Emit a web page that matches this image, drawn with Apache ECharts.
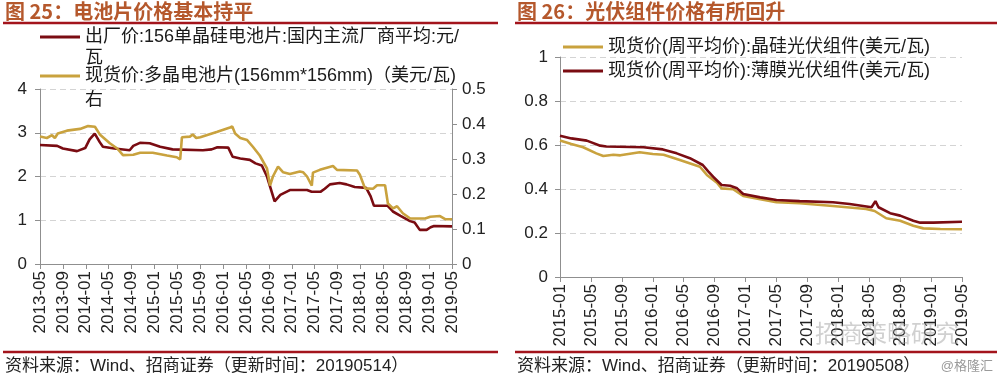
<!DOCTYPE html>
<html>
<head>
<meta charset="utf-8">
<script src="https://cdn.jsdelivr.net/npm/echarts@6/dist/echarts.min.js"></script>
<style>
html,body{margin:0;padding:0;background:#fff;}
#chart{width:1000px;height:379px;}
</style>
</head>
<body>
<div id="chart"></div>
<script>
// ---------- Data: left chart (图25) ----------
const leftTickLabels = ['2013-05','2013-09','2014-01','2014-05','2014-09','2015-01','2015-05','2015-09','2016-01','2016-05','2016-09','2017-01','2017-05','2017-09','2018-01','2018-05','2018-09','2019-01','2019-05'];

const cellFactoryName = '出厂价:156单晶硅电池片:国内主流厂商平均:元/瓦';
const cellFactoryDates = ['2013-05-01','2013-08-01','2013-09-01','2013-11-15','2013-12-28','2014-01-21','2014-02-18','2014-03-15','2014-04-01','2014-06-01','2014-08-21','2014-09-10','2014-10-15','2014-12-06','2015-02-01','2015-04-06','2015-09-15','2015-11-01','2015-12-01','2016-01-28','2016-02-21','2016-04-01','2016-05-21','2016-06-21','2016-07-24','2016-08-21','2016-10-01','2016-11-01','2016-12-21','2017-03-21','2017-04-15','2017-06-01','2017-06-24','2017-07-21','2017-09-12','2017-10-18','2017-12-01','2018-02-01','2018-02-24','2018-03-12','2018-05-24','2018-06-21','2018-08-01','2018-09-21','2018-10-15','2018-11-12','2018-12-18','2019-01-09','2019-01-27','2019-05-01'];
const cellFactoryPrice = [2.72,2.70,2.64,2.58,2.65,2.85,2.98,2.78,2.68,2.64,2.60,2.70,2.77,2.76,2.68,2.62,2.60,2.62,2.67,2.66,2.45,2.41,2.38,2.30,2.25,2.00,1.43,1.58,1.69,1.69,1.65,1.65,1.72,1.82,1.85,1.82,1.76,1.74,1.55,1.33,1.33,1.20,1.10,0.98,0.95,0.78,0.78,0.84,0.87,0.86];

const cellSpotName = '现货价:多晶电池片(156mm*156mm)（美元/瓦)右';
const cellSpotDates = ['2013-05-01','2013-06-07','2013-07-04','2013-07-19','2013-08-04','2013-09-22','2013-12-01','2014-01-13','2014-02-19','2014-03-16','2014-05-07','2014-06-16','2014-07-16','2014-09-10','2014-10-16','2014-12-22','2015-03-07','2015-04-28','2015-05-16','2015-05-25','2015-07-07','2015-07-22','2015-08-10','2015-09-01','2015-12-01','2016-02-07','2016-02-19','2016-03-04','2016-04-01','2016-05-07','2016-06-07','2016-07-13','2016-08-21','2016-09-07','2016-09-22','2016-10-19','2016-11-16','2016-12-21','2017-02-13','2017-03-01','2017-03-21','2017-04-16','2017-04-22','2017-05-28','2017-08-07','2017-08-28','2017-12-13','2017-12-28','2018-01-25','2018-03-07','2018-03-28','2018-05-10','2018-05-25','2018-06-22','2018-07-13','2018-08-13','2018-09-22','2018-12-10','2019-01-07','2019-02-28','2019-03-25','2019-05-01'];
const cellSpotPrice = [0.364,0.360,0.368,0.360,0.373,0.381,0.386,0.394,0.392,0.369,0.345,0.330,0.311,0.312,0.318,0.318,0.310,0.305,0.299,0.362,0.364,0.370,0.360,0.362,0.378,0.390,0.393,0.373,0.360,0.354,0.335,0.310,0.273,0.224,0.250,0.278,0.262,0.257,0.264,0.262,0.250,0.224,0.261,0.269,0.280,0.269,0.267,0.255,0.216,0.215,0.225,0.225,0.173,0.159,0.165,0.145,0.130,0.130,0.135,0.137,0.128,0.128];

// ---------- Data: right chart (图26) ----------
const rightTickLabels = ['2015-01','2015-05','2015-09','2016-01','2016-05','2016-09','2017-01','2017-05','2017-09','2018-01','2018-05','2018-09','2019-01','2019-05'];

const moduleSiName = '现货价(周平均价):晶硅光伏组件(美元/瓦)';
const moduleSiDates = ['2015-01-01','2015-02-15','2015-04-01','2015-05-22','2015-06-19','2015-07-28','2015-08-25','2015-11-10','2016-01-01','2016-02-13','2016-04-16','2016-07-04','2016-08-01','2016-09-10','2016-09-28','2016-11-13','2016-12-22','2017-02-28','2017-05-01','2017-08-01','2017-12-10','2018-04-19','2018-05-22','2018-07-07','2018-09-01','2018-10-22','2018-12-01','2019-02-07','2019-05-01'];
const moduleSiPrice = [0.620,0.605,0.590,0.562,0.550,0.556,0.553,0.567,0.559,0.556,0.532,0.501,0.464,0.429,0.403,0.399,0.368,0.353,0.340,0.335,0.323,0.309,0.300,0.267,0.256,0.233,0.221,0.218,0.217];

const moduleFilmName = '现货价(周平均价):薄膜光伏组件(美元/瓦)';
const moduleFilmDates = ['2015-01-01','2015-02-15','2015-04-15','2015-06-07','2015-07-01','2015-11-25','2016-02-10','2016-04-04','2016-05-25','2016-07-15','2016-08-07','2016-08-25','2016-09-28','2016-11-01','2016-11-28','2016-12-22','2017-02-28','2017-05-01','2017-08-01','2017-12-10','2018-02-15','2018-05-10','2018-05-25','2018-06-07','2018-07-22','2018-09-01','2018-10-22','2018-11-19','2019-01-10','2019-05-01'];
const moduleFilmPrice = [0.642,0.630,0.620,0.597,0.593,0.590,0.580,0.562,0.540,0.509,0.479,0.456,0.418,0.415,0.403,0.377,0.362,0.350,0.345,0.340,0.332,0.317,0.345,0.317,0.290,0.279,0.256,0.247,0.247,0.251];

// ---------- helpers ----------
function monthIndex(s, by, bm) {
  const p = s.split('-').map(Number);
  return (p[0] - by) * 12 + (p[1] - bm) + (p[2] - 1) / 30;
}
function pairs(dates, vals, by, bm) {
  return dates.map((d, i) => [monthIndex(d, by, bm), vals[i]]);
}

const FONT = '"Liberation Sans", Arial, "Noto Sans CJK SC", sans-serif';
const TITLE_FONT = '"Noto Sans CJK SC", sans-serif';
const DARK = '#7a0c12';
const GOLD = '#c9a23e';
const AXIS = '#8f8f8f';
const RULE = '#a3141c';
const TITLE_C = '#b5582c';

function xAxisCfg(gi, labels) {
  return {
    gridIndex: gi, type: 'value', min: 0, max: (labels.length - 1) * 4, interval: 4,
    axisLine: { show: true, onZero: false, lineStyle: { color: AXIS, width: 1 } },
    axisTick: { show: true, length: 5, lineStyle: { color: AXIS } },
    axisLabel: { rotate: 90, margin: 7, fontSize: 17, color: '#222', fontFamily: FONT,
      formatter: v => labels[Math.round(v / 4)] || '' },
    splitLine: { show: false }
  };
}
function fmt1(v) {
  const r = Math.round(v * 10) / 10;
  return (r === 0 || r === 1) ? String(r) : r.toFixed(1);
}

const chart = echarts.init(document.getElementById('chart'), null, { renderer: 'canvas' });

const legendBase = {
  orient: 'horizontal', icon: 'rect', itemWidth: 40, itemHeight: 3, selectedMode: false,
  textStyle: { fontSize: 18, color: '#1a1a1a', fontFamily: FONT }, padding: 0
};

chart.setOption({
  animation: false,
  backgroundColor: '#fff',
  grid: [
    { left: 40, top: 89, width: 412, height: 175 },
    { left: 560, top: 57, width: 402, height: 220 }
  ],
  legend: [
    Object.assign({}, legendBase, { data: [cellFactoryName], left: 40, top: 28,
      formatter: () => '出厂价:156单晶硅电池片:国内主流厂商平均:元/' }),
    Object.assign({}, legendBase, { data: [cellSpotName], left: 40, top: 67,
      formatter: () => '现货价:多晶电池片(156mm*156mm)（美元/瓦)' }),
    Object.assign({}, legendBase, { data: [moduleSiName], left: 563, top: 38 }),
    Object.assign({}, legendBase, { data: [moduleFilmName], left: 563, top: 62 })
  ],
  xAxis: [xAxisCfg(0, leftTickLabels), xAxisCfg(1, rightTickLabels)],
  yAxis: [
    { gridIndex: 0, type: 'value', position: 'left', min: 0, max: 4, interval: 1,
      axisLine: { show: true, lineStyle: { color: AXIS } },
      axisTick: { show: true, length: 5, lineStyle: { color: AXIS } },
      axisLabel: { fontSize: 17, color: '#222', margin: 13, fontFamily: FONT },
      splitLine: { show: true, lineStyle: { color: '#d4d4d4', type: [6, 4], width: 1 } } },
    { gridIndex: 0, type: 'value', position: 'right', min: 0, max: 0.5, interval: 0.1,
      axisLine: { show: true, lineStyle: { color: AXIS } },
      axisTick: { show: true, length: 5, lineStyle: { color: AXIS } },
      axisLabel: { fontSize: 17, color: '#222', margin: 10, fontFamily: FONT, formatter: fmt1 },
      splitLine: { show: false } },
    { gridIndex: 1, type: 'value', position: 'left', min: 0, max: 1, interval: 0.2,
      axisLine: { show: true, lineStyle: { color: AXIS } },
      axisTick: { show: true, length: 5, lineStyle: { color: AXIS } },
      axisLabel: { fontSize: 17, color: '#222', margin: 12, fontFamily: FONT, formatter: fmt1 },
      splitLine: { show: true, lineStyle: { color: '#d4d4d4', type: [6, 4], width: 1 } } }
  ],
  series: [
    { type: 'line', name: cellFactoryName, xAxisIndex: 0, yAxisIndex: 0,
      data: pairs(cellFactoryDates, cellFactoryPrice, 2013, 5), showSymbol: false,
      lineStyle: { color: DARK, width: 2.6 }, itemStyle: { color: DARK } },
    { type: 'line', name: cellSpotName, xAxisIndex: 0, yAxisIndex: 1,
      data: pairs(cellSpotDates, cellSpotPrice, 2013, 5), showSymbol: false,
      lineStyle: { color: GOLD, width: 2.6 }, itemStyle: { color: GOLD } },
    { type: 'line', name: moduleSiName, xAxisIndex: 1, yAxisIndex: 2,
      data: pairs(moduleSiDates, moduleSiPrice, 2015, 1), showSymbol: false,
      lineStyle: { color: GOLD, width: 2.6 }, itemStyle: { color: GOLD } },
    { type: 'line', name: moduleFilmName, xAxisIndex: 1, yAxisIndex: 2,
      data: pairs(moduleFilmDates, moduleFilmPrice, 2015, 1), showSymbol: false,
      lineStyle: { color: DARK, width: 2.6 }, itemStyle: { color: DARK } }
  ],
  graphic: [
    { type: 'text', left: 5, top: 1, style: { text: '图 25：电池片价格基本持平', fill: TITLE_C,
      font: 'bold 20px ' + TITLE_FONT } },
    { type: 'text', left: 517, top: 1, style: { text: '图 26：光伏组件价格有所回升', fill: TITLE_C,
      font: 'bold 20px ' + TITLE_FONT } },
    { type: 'line', shape: { x1: 3, y1: 23, x2: 498, y2: 23 }, style: { stroke: RULE, lineWidth: 2.5 } },
    { type: 'line', shape: { x1: 515, y1: 23, x2: 997, y2: 23 }, style: { stroke: RULE, lineWidth: 2.5 } },
    { type: 'line', shape: { x1: 3, y1: 352, x2: 498, y2: 352 }, style: { stroke: RULE, lineWidth: 2.5 } },
    { type: 'line', shape: { x1: 515, y1: 352, x2: 997, y2: 352 }, style: { stroke: RULE, lineWidth: 2.5 } },
    { type: 'text', x: 85, y: 58, style: { text: '瓦', fill: '#1a1a1a', font: '18px ' + FONT, verticalAlign: 'middle' } },
    { type: 'text', x: 85, y: 100, style: { text: '右', fill: '#1a1a1a', font: '18px ' + FONT, verticalAlign: 'middle' } },
    { type: 'text', x: 5, y: 366, style: { text: '资料来源：Wind、招商证券（更新时间：20190514）', fill: '#222',
      font: '17px ' + FONT, verticalAlign: 'middle' } },
    { type: 'text', x: 517, y: 366, style: { text: '资料来源：Wind、招商证券（更新时间：20190508）', fill: '#222',
      font: '17px ' + FONT, verticalAlign: 'middle' } },
    { type: 'text', x: 993, y: 366, style: { text: '@格隆汇', fill: '#9a9a9a', align: 'right',
      font: '13px ' + FONT, verticalAlign: 'middle' } },
    { type: 'text', x: 815, y: 333, z: 100, style: { text: '招商策略研究', fill: 'rgba(150,150,150,0.45)',
      font: '24px ' + TITLE_FONT, verticalAlign: 'middle' } }
  ]
});
</script>
</body>
</html>
